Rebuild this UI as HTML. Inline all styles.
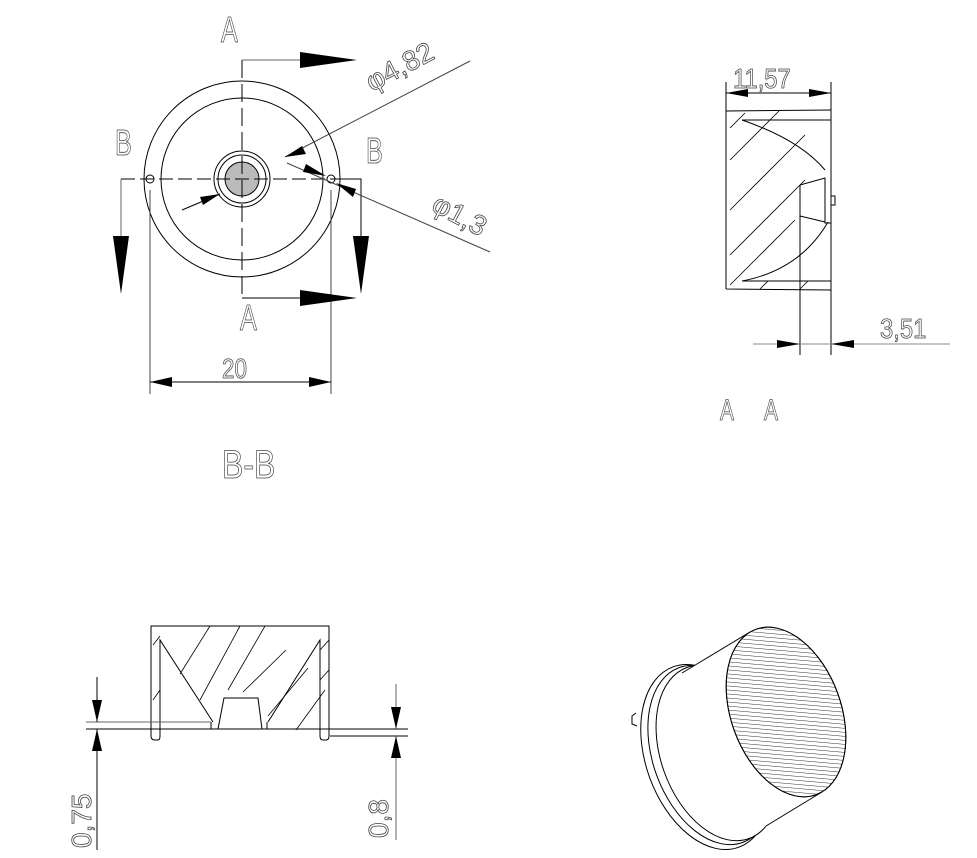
<!DOCTYPE html>
<html><head><style>html,body{margin:0;padding:0;background:#fff}svg{display:block}
text{font-family:"Liberation Sans",sans-serif;fill:#fff;stroke:#444;stroke-width:0.8}</style></head>
<body>
<svg width="977" height="858" viewBox="0 0 977 858" xmlns="http://www.w3.org/2000/svg">
<defs>
<pattern id="h" width="4" height="4" patternUnits="userSpaceOnUse" patternTransform="rotate(25)"><line x1="0" y1="0" x2="4" y2="0" stroke="#000" stroke-width="0.8"/></pattern>
</defs>
<g fill="none" stroke="#000" stroke-width="1">
<circle cx="242" cy="179" r="98"/>
<circle cx="242" cy="179" r="81"/>
<circle cx="242" cy="179" r="28"/>
<circle cx="242" cy="179" r="24"/>
<circle cx="242" cy="179" r="17" fill="#bbb"/>
<circle cx="150" cy="179" r="4"/>
<circle cx="331" cy="179" r="4"/>
<line x1="121" y1="179" x2="361" y2="179" stroke-dasharray="14 5"/>
<line x1="242" y1="60" x2="242" y2="298" stroke-dasharray="18 6"/>
<polyline points="242,60 300,60" stroke="#666"/>
<polyline points="242,298 300,298"/>
<polyline points="121,179 121,236" stroke="#666"/>
<polyline points="331,179 361,179 361,236"/>
<line x1="150" y1="190" x2="150" y2="394" stroke="#444"/>
<line x1="331" y1="190" x2="331" y2="394" stroke="#444"/>
<line x1="150" y1="382" x2="331" y2="382"/>
<line x1="470" y1="61" x2="285" y2="157" stroke="#444"/>
<line x1="182" y1="210" x2="220" y2="194"/>
<line x1="287" y1="163" x2="490" y2="252" stroke="#444"/>
<line x1="726" y1="82" x2="726" y2="111"/>
<line x1="831" y1="82" x2="831" y2="355"/>
<line x1="726" y1="93" x2="831" y2="93"/>
<path d="M726,111 L831,110 M726,111 L726,289 M726,289 L831,290 M742,120 L831,120 M742,281 L831,281"/>
<path d="M742,120 Q800,140 825,170 M800,185 L825,178 L825,223 L831,223 L831,178 M800,216 L825,222 M742,281 Q800,270 828,222 M800,185 L800,355 M831,196 L835,196 L835,205 L831,205"/>
<path d="M730,128 L745,113 M730,160 L780,110 M730,210 L805,135 M730,255 L805,180 M730,285 L795,220 M760,289 L768,281 M800,289 L808,281" stroke-width="0.8"/>
<line x1="753" y1="344" x2="950" y2="344" stroke="#888"/>
<path d="M151,736 L151,626 L329,626 L329,736"/>
<path d="M160,736 L160,640 L213,722 M320,736 L320,640 L268,722 M151,736 Q151,740 155,740 L158,740 Q160,740 160,736 M320,736 Q320,740 323,740 L326,740 Q329,740 329,736"/>
<path d="M218,729 L224,698 L258,698 L262,729 Z M211,729 L211,722 M267,729 L267,722"/>
<path d="M180,674 L210,626 M200,700 L240,626 M228,690 L265,626 M243,692 L286,650 M268,716 L308,668 M296,730 L325,690 M153,645 L160,636 M153,700 L160,690 M320,680 L329,670 M320,650 L329,640" stroke-width="0.8"/>
<line x1="86" y1="729" x2="408" y2="729"/>
<line x1="86" y1="722" x2="211" y2="722" stroke="#666"/>
<line x1="330" y1="736" x2="408" y2="736"/>
<line x1="97" y1="677" x2="97" y2="722"/>
<line x1="97" y1="729" x2="97" y2="850"/>
<line x1="396" y1="684" x2="396" y2="729" stroke="#666"/>
<line x1="396" y1="736" x2="396" y2="840" stroke="#666"/>
<path d="M636,713 L632,716 L632,724 L637,726" />
<ellipse cx="706" cy="757" rx="60" ry="96" transform="rotate(-20 706 757)" fill="#fff"/>
<ellipse cx="711" cy="755" rx="58" ry="93" transform="rotate(-20 711 755)" fill="#fff"/>
<ellipse cx="718" cy="753" rx="57" ry="91" transform="rotate(-20 718 753)" fill="#fff"/>
<polygon points="750,632 822,792 754,833 682,673" fill="#fff" stroke="none"/>
<line x1="750" y1="632" x2="682" y2="673"/>
<line x1="822" y1="792" x2="766" y2="826"/>
<ellipse cx="786" cy="712" rx="55" ry="88" transform="rotate(-20 786 712)" fill="#fff"/>
<ellipse cx="786" cy="712" rx="55" ry="88" transform="rotate(-20 786 712)" fill="url(#h)"/>
</g>
<g fill="#000" stroke="none">
<polygon points="300,52 357,60 300,68"/>
<polygon points="300,290 357,298 300,306"/>
<polygon points="113,236 129,236 121,294"/>
<polygon points="353,236 369,236 361,294"/>
<polygon points="150,382 172,377 172,387"/>
<polygon points="331,382 309,377 309,387"/>
<polygon points="285,157 302,146 306,154"/>
<polygon points="220,194 200,197 203,205"/>
<polygon points="326,176 306,164 303,172"/>
<polygon points="336,183 356,189 353,197"/>
<polygon points="726,93 748,89 748,97"/>
<polygon points="831,93 809,89 809,97"/>
<polygon points="800,344 777,340 777,348"/>
<polygon points="831,344 854,340 854,348"/>
<polygon points="97,722 92,700 102,700"/>
<polygon points="97,729 92,751 102,751"/>
<polygon points="396,729 391,707 401,707"/>
<polygon points="396,736 391,758 401,758"/>
</g>
<g>
<text transform="translate(221,42) scale(0.7,1)" font-size="36">A</text>
<text transform="translate(240,330) scale(0.7,1)" font-size="36">A</text>
<text transform="translate(115,155) scale(0.7,1)" font-size="36">B</text>
<text transform="translate(366,163) scale(0.7,1)" font-size="36">B</text>
<text transform="translate(222,378) scale(0.8,1)" font-size="28">20</text>
<text transform="translate(222,478) scale(0.8,1)" font-size="40">B-B</text>
<text transform="translate(720,420) scale(0.7,1)" font-size="30">A</text>
<text transform="translate(764,420) scale(0.7,1)" font-size="30">A</text>
<text transform="translate(733,88) scale(0.85,1)" font-size="28">11,57</text>
<text transform="translate(880,338) scale(0.85,1)" font-size="28">3,51</text>
<text transform="translate(372,92) rotate(-28)" font-size="28">φ4,82</text>
<text transform="translate(430,210) rotate(28)" font-size="28">φ1,3</text>
<text transform="translate(91,848) rotate(-90)" font-size="28">0,75</text>
<text transform="translate(388,838) rotate(-90)" font-size="28">0,8</text>
</g>
</svg>
</body></html>
